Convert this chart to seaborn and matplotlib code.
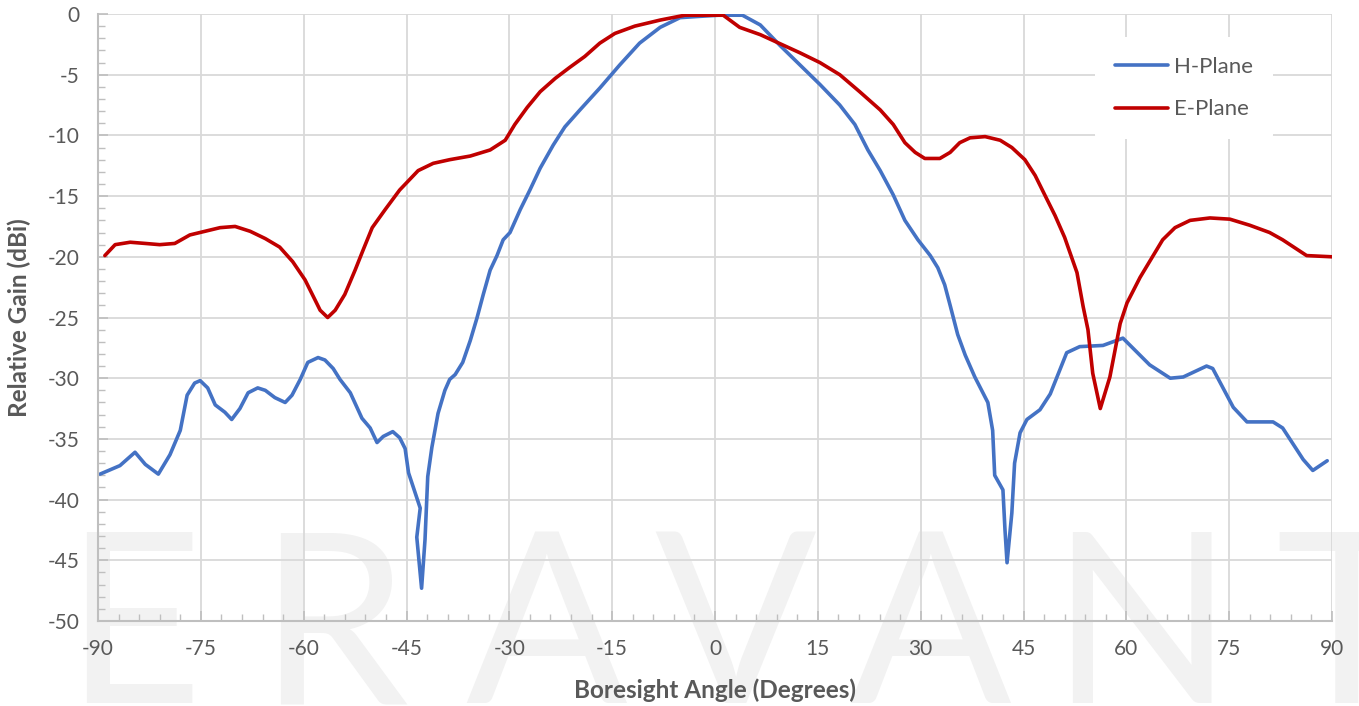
import numpy as np
import pandas as pd
import matplotlib
matplotlib.use("Agg")
import matplotlib.pyplot as plt
import seaborn as sns
from matplotlib.ticker import MultipleLocator

# H-Plane trace (angle in degrees, relative gain in dBi)
h_angle = [-89.7, -86.8, -84.6, -83.1, -81.2, -79.5, -78.0, -77.0, -75.9, -75.1,
           -74.0, -72.9, -71.5, -70.5, -69.3, -68.1, -66.7, -65.6, -64.2, -62.7,
           -61.7, -60.5, -59.4, -57.9, -56.9, -55.7, -54.7, -53.2, -51.5, -50.3,
           -49.3, -48.4, -47.0, -46.0, -45.2, -44.7, -43.0, -43.5, -42.8, -42.3,
           -41.9, -41.3, -40.4, -39.4, -38.7, -37.9, -36.8, -35.7, -34.7, -33.8,
           -32.8, -31.8, -30.9, -29.9, -28.4, -27.0, -25.5, -23.6, -21.9, -19.7,
           -16.8, -13.9, -11.0, -8.0, -5.1, -2.4, 0.5, 4.0, 6.6, 9.5,
           12.4, 15.3, 18.2, 20.4, 22.3, 24.1, 26.0, 27.7, 29.6, 31.4,
           32.5, 33.5, 34.3, 35.4, 36.5, 37.9, 39.8, 40.5, 40.8, 42.0,
           42.3, 42.6, 43.3, 43.7, 44.5, 45.5, 47.4, 48.9, 51.3, 53.2,
           56.6, 59.5, 63.4, 66.4, 68.3, 71.7, 72.6, 75.6, 77.6, 81.4,
           82.8, 85.8, 87.2, 89.3]
h_gain = [-37.9, -37.2, -36.1, -37.1, -37.9, -36.3, -34.3, -31.4, -30.4, -30.2,
          -30.8, -32.2, -32.8, -33.4, -32.5, -31.2, -30.8, -31.0, -31.6, -32.0,
          -31.4, -30.1, -28.7, -28.3, -28.5, -29.2, -30.1, -31.2, -33.3, -34.1,
          -35.3, -34.8, -34.4, -34.9, -35.8, -37.8, -40.7, -43.1, -47.3, -43.3,
          -38.1, -35.7, -32.9, -31.0, -30.1, -29.7, -28.7, -26.9, -25.0, -23.1,
          -21.1, -19.9, -18.6, -18.0, -16.1, -14.5, -12.7, -10.8, -9.3, -7.9,
          -6.1, -4.2, -2.4, -1.1, -0.3, -0.2, -0.1, -0.1, -0.9, -2.6,
          -4.2, -5.8, -7.5, -9.1, -11.2, -12.9, -14.9, -17.0, -18.6, -19.9,
          -20.9, -22.3, -24.0, -26.4, -28.1, -29.9, -32.0, -34.3, -38.0, -39.2,
          -42.5, -45.2, -41.1, -37.0, -34.5, -33.4, -32.6, -31.3, -27.9, -27.4,
          -27.3, -26.7, -28.9, -30.0, -29.9, -29.0, -29.2, -32.4, -33.6, -33.6,
          -34.1, -36.7, -37.6, -36.8]

# E-Plane trace
e_angle = [-89.0, -87.5, -85.3, -83.1, -81.0, -78.8, -76.6, -74.4, -72.2, -70.0,
           -67.8, -65.6, -63.5, -61.6, -59.8, -58.3, -57.6, -56.5, -55.4, -54.0,
           -52.5, -51.3, -50.0, -48.1, -46.0, -43.3, -41.1, -38.7, -35.7, -32.8,
           -30.6, -29.2, -27.4, -25.5, -23.3, -21.2, -19.0, -16.8, -14.6, -11.7,
           -8.0, -4.4, -2.4, 0.5, 1.2, 3.6, 6.6, 12.4, 15.3, 18.2,
           21.1, 24.1, 26.0, 27.7, 29.2, 30.6, 32.8, 34.3, 35.7, 37.2,
           39.4, 41.6, 43.3, 45.2, 46.7, 48.1, 49.6, 51.0, 52.8, 53.7,
           54.4, 55.1, 56.2, 57.6, 59.1, 60.1, 62.0, 65.3, 67.1, 69.3,
           72.2, 75.1, 78.0, 80.9, 82.8, 86.3, 90.0]
e_gain = [-19.9, -19.0, -18.8, -18.9, -19.0, -18.9, -18.2, -17.9, -17.6, -17.5,
          -17.9, -18.5, -19.2, -20.4, -21.9, -23.6, -24.4, -25.0, -24.4, -23.1,
          -21.1, -19.4, -17.6, -16.1, -14.5, -12.9, -12.3, -12.0, -11.7, -11.2,
          -10.4, -9.1, -7.7, -6.4, -5.3, -4.4, -3.5, -2.4, -1.6, -1.0,
          -0.5, -0.1, -0.1, -0.1, -0.1, -1.1, -1.7, -3.2, -4.0, -5.0,
          -6.4, -7.9, -9.1, -10.6, -11.4, -11.9, -11.9, -11.4, -10.6, -10.2,
          -10.1, -10.4, -11.0, -12.0, -13.3, -14.9, -16.6, -18.4, -21.3, -24.1,
          -26.0, -29.6, -32.5, -29.9, -25.5, -23.8, -21.7, -18.6, -17.6, -17.0,
          -16.8, -16.9, -17.4, -18.0, -18.6, -19.9, -20.0]

series_names = ["H-Plane", "E-Plane"]
series_colors = ["#4472C4", "#C00000"]
watermark = "ERAVANT"

df = pd.concat([
    pd.DataFrame({"angle": h_angle, "gain": h_gain, "plane": series_names[0]}),
    pd.DataFrame({"angle": e_angle, "gain": e_gain, "plane": series_names[1]}),
], ignore_index=True)

sns.set_theme(style="white")
plt.rcParams["font.family"] = ["Lato", "DejaVu Sans"]
plt.rcParams["axes.unicode_minus"] = False

W, H = 1359, 706
fig = plt.figure(figsize=(W / 100, H / 100), dpi=100)

# faint logo text behind the plot
for ch, cx in zip(watermark, [133, 333, 546, 735, 930, 1141, 1346]):
    fig.text(cx / W, 3 / H, ch, ha="center", va="baseline", fontsize=172,
             color="#f2f2f2", zorder=-5)

ax = fig.add_axes([98 / W, 1 - 621 / H, (1332 - 98) / W, (621 - 14) / H])
ax.set_facecolor("none")
ax.set_zorder(2)

sns.lineplot(data=df, x="angle", y="gain", hue="plane",
             palette=dict(zip(series_names, series_colors)),
             estimator=None, sort=False, lw=2.6, ax=ax)

ax.set_xlim(-90, 90)
ax.set_ylim(-50, 0)
ax.xaxis.set_major_locator(MultipleLocator(15))
ax.xaxis.set_minor_locator(MultipleLocator(3))
ax.yaxis.set_major_locator(MultipleLocator(5))
ax.yaxis.set_minor_locator(MultipleLocator(1))
ax.grid(True, which="major", color="#d9d9d9", lw=1.3)
ax.set_axisbelow(True)

for s in ["top", "right"]:
    ax.spines[s].set_visible(False)
for s in ["left", "bottom"]:
    ax.spines[s].set_color("#bfbfbf")
    ax.spines[s].set_linewidth(1.5)

ax.tick_params(which="both", direction="in", color="#bfbfbf", labelcolor="#595959",
               labelsize=15, pad=13, bottom=True, left=True)
ax.tick_params(which="major", length=7, width=1.2)
ax.tick_params(which="minor", length=5, width=1.0)

ax.set_xlabel("Boresight Angle (Degrees)", fontsize=17.5, fontweight="bold",
              color="#595959", labelpad=14)
ax.set_ylabel("Relative Gain (dBi)", fontsize=17.5, fontweight="bold",
              color="#595959", labelpad=12)

handles, labels = ax.get_legend_handles_labels()
leg = ax.legend(handles, labels, loc="upper left", bbox_to_anchor=(0.808, 0.962),
                frameon=True, facecolor="white", edgecolor="none", framealpha=1,
                fontsize=16, handlelength=2.4, handletextpad=0.25,
                labelspacing=1.0, borderpad=0.9, borderaxespad=0)
for t in leg.get_texts():
    t.set_color("#595959")
for l in leg.get_lines():
    l.set_linewidth(2.6)

fig.savefig("out.png", dpi=100)
